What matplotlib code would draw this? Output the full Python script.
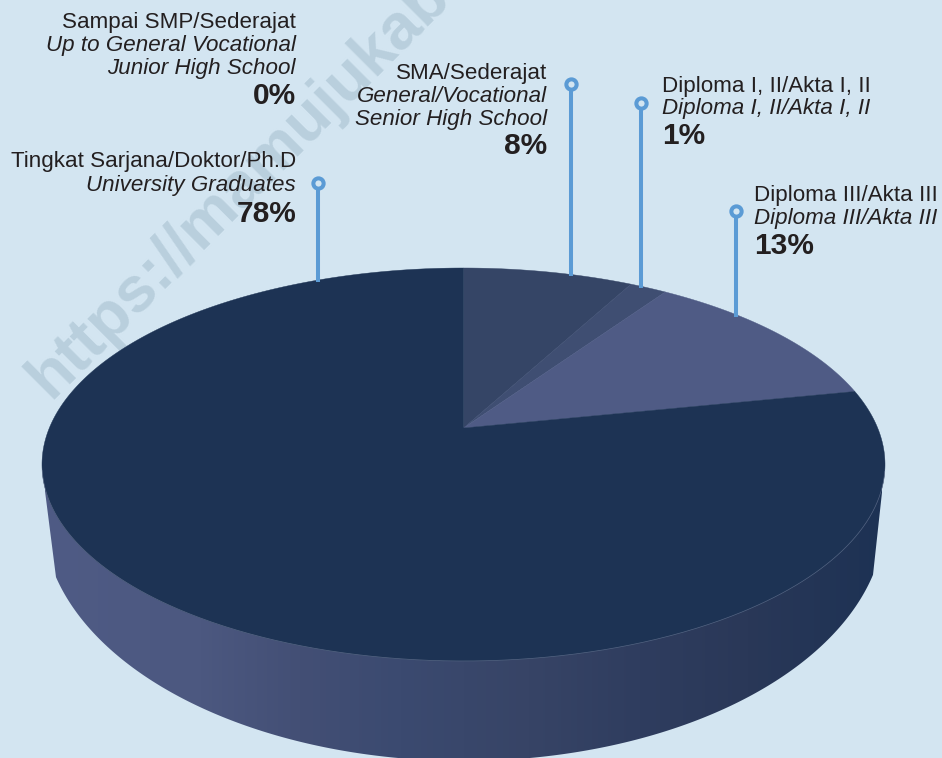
import numpy as np
import matplotlib
matplotlib.use("Agg")
import matplotlib.pyplot as plt
from matplotlib.patches import Polygon
from matplotlib.colors import LinearSegmentedColormap

categories = ["SMA/Sederajat", "Diploma I, II/Akta I, II", "Diploma III/Akta III",
              "Tingkat Sarjana/Doktor/Ph.D"]
values = [7.8, 1.7, 12.3, 78.2]
slice_colors = ["#354566", "#3f4e72", "#4f5b85", "#1d3354"]

label_blocks = [
    dict(name="Sampai SMP/Sederajat", en=["Up to General Vocational", "Junior High School"], pct="0%",
         x=296, ha="right", base=[28, 51, 74, 104]),
    dict(name="SMA/Sederajat", en=["General/Vocational", "Senior High School"], pct="8%",
         x=547, ha="right", base=[79, 102, 125, 154]),
    dict(name="Tingkat Sarjana/Doktor/Ph.D", en=["University Graduates"], pct="78%",
         x=296, ha="right", base=[167.5, 191.5, 222]),
    dict(name="Diploma I, II/Akta I, II", en=["Diploma I, II/Akta I, II"], pct="1%",
         x=662, ha="left", base=[92, 114, 144]),
    dict(name="Diploma III/Akta III", en=["Diploma III/Akta III"], pct="13%",
         x=754, ha="left", base=[201, 224, 254]),
]
pin_x = [318, 571, 641, 736]
pin_top = [183, 84, 103, 211]
pin_bottom = [282, 276, 288, 317]

BG = "#d3e5f1"
TEXT = "#231f20"
PIN = "#5b9bd5"
FONT = "Liberation Sans"

# ellipse geometry of the tilted disc
cx, cy, a, b = 463.5, 464.5, 421.5, 196.5
apex_y = 428.0
k = (cy - apex_y) / b
s = a * np.sqrt(1 - k ** 2)
bot_cx, bot_cy, bot_a, bot_b = 464.0, 517.0, 421.0, 244.0
bot_left, bot_right = 56.0, 873.0


def project(theta):
    """Pie angle (clockwise from top, radians) -> picture point, in perspective."""
    u, v = np.sin(theta), np.cos(theta)
    w = 1 + k * v
    return cx + s * u / w, cy - (b * v + (cy - apex_y)) / w


fig = plt.figure(figsize=(9.42, 7.58), dpi=100, facecolor=BG)
ax = fig.add_axes([0, 0, 1, 1])
ax.set_facecolor(BG)
ax.axis("off")

# watermark
ax.text(50, 400, "https://mamujukab.bps.go.id", rotation=45, rotation_mode="anchor",
        ha="left", va="baseline", fontsize=46, fontweight="bold", color="#b9cfdd",
        family=FONT, zorder=1, clip_on=True)

# side wall with horizontal gradient
t = np.linspace(np.arccos((bot_left - bot_cx) / bot_a),
                np.arccos((bot_right - bot_cx) / bot_a), 240)
bx = bot_cx + bot_a * np.cos(t)
by = bot_cy + bot_b * np.sin(t)
tt = np.linspace(0, 2 * np.pi, 720)
ex, ey = cx + a * np.cos(tt), cy + b * np.sin(tt)
off = 0.1
lx, ly = cx - a * np.cos(off), cy + b * np.sin(off)
rx, ry = cx + a * np.cos(off), cy + b * np.sin(off)
side_pts = np.column_stack([np.r_[lx, bx, rx], np.r_[ly, by, ry]])
side = Polygon(side_pts, closed=True, fc="none", ec="none", zorder=2)
ax.add_patch(side)
grad_x0, grad_x1 = 45.0, 882.0
grad_stops = [(45, "#4f5b85"), (200, "#4c5880"), (300, "#434f75"), (400, "#3b4a70"),
              (530, "#374466"), (640, "#2f3d5f"), (750, "#2a3858"), (882, "#1d3254")]
grad_cmap = LinearSegmentedColormap.from_list(
    "side", [((x - grad_x0) / (grad_x1 - grad_x0), c) for x, c in grad_stops])
img = ax.imshow(np.linspace(0, 1, 512)[None, :], cmap=grad_cmap, aspect="auto",
                extent=[grad_x0, grad_x1, 765, 470], zorder=2)
img.set_clip_path(side)

# top face: full ellipse is made of the wedges
fracs = np.cumsum([0] + values) / sum(values)
for i, col in enumerate(slice_colors):
    th = np.linspace(fracs[i], fracs[i + 1], 400) * 2 * np.pi
    x, y = project(th)
    ax.add_patch(Polygon(np.column_stack([np.r_[cx, x], np.r_[apex_y, y]]),
                         closed=True, fc=col, ec=col, lw=0.3, zorder=3))

# faint rim along the lower edge
mask = (tt > 0.03) & (tt < np.pi - 0.03)
ax.plot(ex[mask], ey[mask], color="#6c7a96", lw=0.5, alpha=0.7, zorder=4)

# pins
for x, y0, y1 in zip(pin_x, pin_top, pin_bottom):
    ax.plot([x, x], [y0, y1], color=PIN, lw=2.9, solid_capstyle="butt", zorder=5)
    ax.plot([x], [y0], "o", ms=7.4, mfc=BG, mec=PIN, mew=2.9, zorder=6)

# labels
for blk in label_blocks:
    ax.text(blk["x"], blk["base"][0], blk["name"], ha=blk["ha"], va="baseline",
            fontsize=16.1, color=TEXT, family=FONT, zorder=7)
    for line, y in zip(blk["en"], blk["base"][1:-1]):
        ax.text(blk["x"], y, line, ha=blk["ha"], va="baseline", fontsize=16.1,
                style="italic", color=TEXT, family=FONT, zorder=7)
    ax.text(blk["x"], blk["base"][-1], blk["pct"], ha=blk["ha"], va="baseline",
            fontsize=21.5, fontweight="bold", color=TEXT, family=FONT, zorder=7)

ax.set_xlim(0, 942)
ax.set_ylim(758, 0)
fig.savefig("out.png", dpi=100, facecolor=BG)
